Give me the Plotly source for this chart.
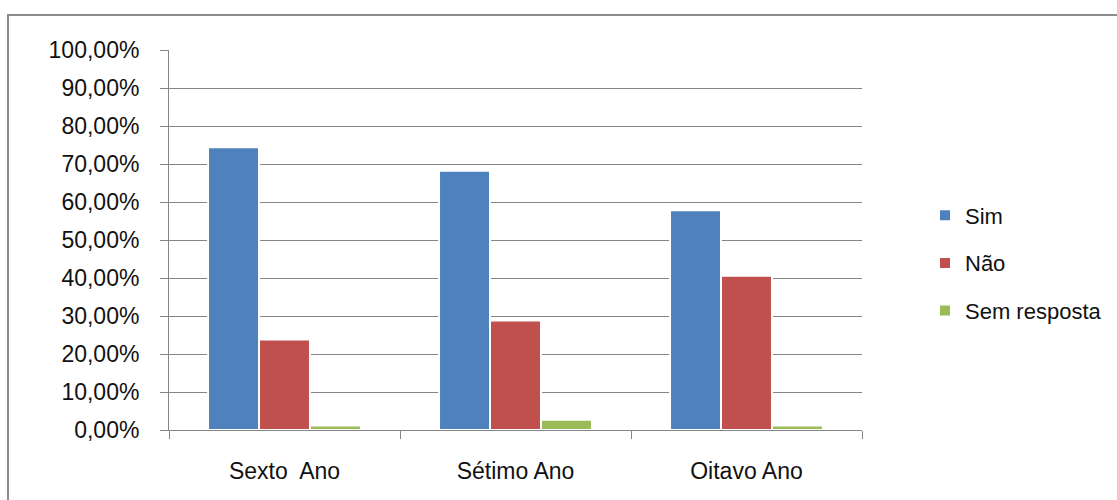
import plotly.graph_objects as go

categories = ["Sexto\u00a0 Ano", "Sétimo Ano", "Oitavo Ano"]
sim = [0.744, 0.682, 0.578]
nao = [0.238, 0.288, 0.406]
sem_resposta = [0.012, 0.027, 0.012]
series_names = ["Sim", "Não", "Sem resposta"]
colors = ["#4F81BD", "#C0504D", "#9BBB59"]
tick_vals = [i / 10 for i in range(11)]
tick_text = [f"{i * 10},00%" for i in range(11)]

W, H = 1117, 500
L, R, T, B = 169, 255, 50, 70
pw, ph = W - L - R, H - T - B

fig = go.Figure()
for i, (name, vals) in enumerate(zip(series_names, [sim, nao, sem_resposta])):
    fig.add_trace(go.Bar(
        x=categories, y=vals, name=name, legendgroup=name,
        marker=dict(color=colors[i], line=dict(color="white", width=2)),
    ))

font = "Liberation Sans, Arial, sans-serif"
fig.update_layout(
    width=W, height=H,
    margin=dict(l=L, r=R, t=T, b=B, autoexpand=False),
    paper_bgcolor="white", plot_bgcolor="white",
    barmode="group", bargap=0.338, bargroupgap=0,
    font=dict(family=font, size=23, color="#111111"),
    showlegend=True,
    legend=dict(x=(925 - L) / pw, xanchor="left", y=(H - B - 263) / ph, yanchor="middle",
                font=dict(size=22), tracegroupgap=16, itemwidth=30,
                bgcolor="rgba(0,0,0,0)"),
    xaxis=dict(
        showline=True, linecolor="#868686", linewidth=1,
        ticks="outside", tickson="boundaries", ticklen=8, tickcolor="#868686",
        ticklabelstandoff=20, showgrid=False, fixedrange=True,
    ),
    yaxis=dict(
        range=[0, 1], tickvals=tick_vals, ticktext=tick_text,
        showline=True, linecolor="#868686", linewidth=1,
        ticks="outside", ticklen=8, tickcolor="#868686",
        showgrid=True, gridcolor="#868686", gridwidth=1,
        ticklabelstandoff=16, zeroline=False,
    ),
    shapes=[dict(
        type="rect", xref="paper", yref="paper",
        x0=(8 - L) / pw, x1=(W + 20 - L) / pw,
        y0=-(B + 20) / ph, y1=1 + (T - 15) / ph,
        line=dict(color="#8c8c8c", width=2), fillcolor="rgba(0,0,0,0)", layer="below",
    )],
)

fig.write_html("out.html")
